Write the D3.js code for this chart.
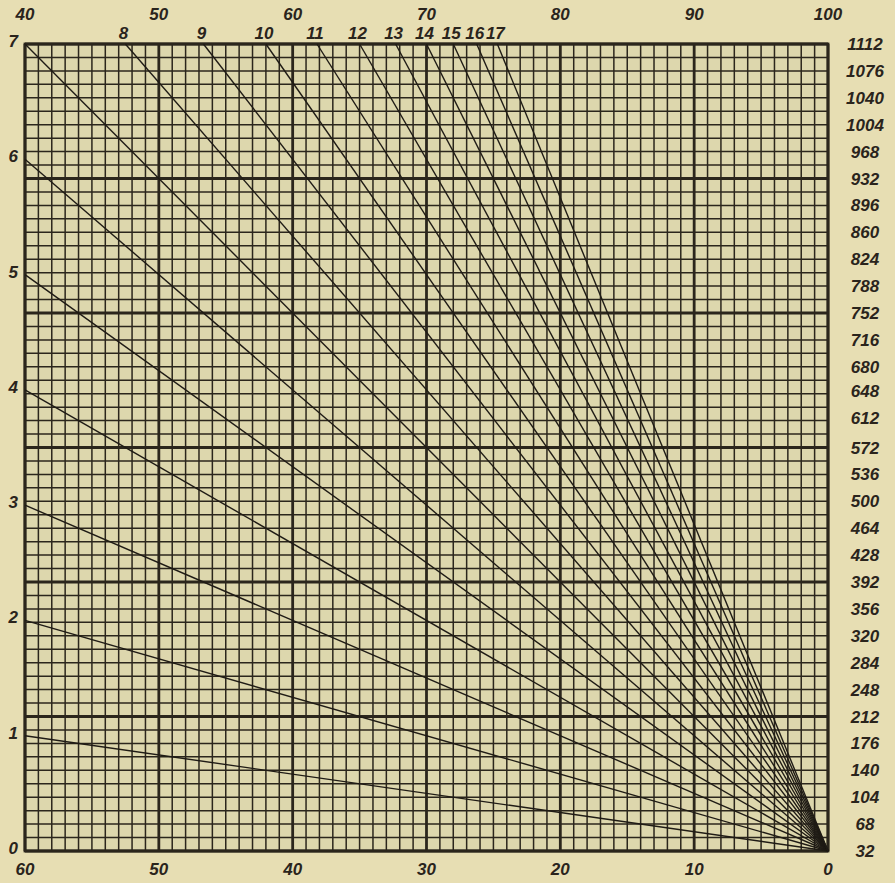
<!DOCTYPE html>
<html>
<head>
<meta charset="utf-8">
<script src="https://cdn.jsdelivr.net/npm/d3@7"></script>
<style>
  body { margin: 0; background: #e7deb3; }
  svg { display: block; }
  text { font-family: "Liberation Sans", Arial, sans-serif; font-style: italic; font-weight: bold; fill: #2a241c; }
</style>
</head>
<body>
<svg id="chart"></svg>
<script>
// axis values
const bottomTicks = [60, 50, 40, 30, 20, 10, 0];
const topTicks = [40, 50, 60, 70, 80, 90, 100];
const leftTicks = [0, 1, 2, 3, 4, 5, 6, 7];
const rightTicks = [32, 68, 104, 140, 176, 212, 248, 284, 320, 356, 392, 428, 464, 500, 536,
    572, 612, 648, 680, 716, 752, 788, 824, 860, 896, 932, 968, 1004, 1040, 1076, 1112];

// ray numbers: 1-7 end on the left edge, 8-17 end on the top edge
const rays = [1, 2, 3, 4, 5, 6, 7, 8, 9, 10, 11, 12, 13, 14, 15, 16, 17];
const topRayLabels = [8, 9, 10, 11, 12, 13, 14, 15, 16, 17];

var w = 895;
var h = 883;
let margin = ({ top: 44, right: 67, bottom: 32, left: 25 });

var svg = d3.select("#chart")
    .attr("width", w)
    .attr("height", h);

var xScale = d3.scaleLinear()
    .domain([60, 0])
    .range([margin.left, w - margin.right]);

var xTop = d3.scaleLinear()
    .domain([40, 100])
    .range([margin.left, w - margin.right]);

var yScale = d3.scaleLinear()
    .domain([0, 7])
    .range([h - margin.bottom, margin.top]);

var yRight = d3.scaleLinear()
    .domain([32, 1112])
    .range([h - margin.bottom, margin.top]);

const ink = "#2b261c";

svg.append("rect")
    .attr("x", xScale(60))
    .attr("y", yScale(7))
    .attr("width", xScale(0) - xScale(60))
    .attr("height", yScale(0) - yScale(7))
    .attr("fill", "#ddd7ad");

// grid: one column per unit of the bottom scale, one row per 18 on the right scale
const grid = svg.append("g");

grid.append("g")
    .selectAll("line")
    .data(d3.range(0, 61))
    .join("line")
    .attr("x1", d => xScale(d))
    .attr("x2", d => xScale(d))
    .attr("y1", yScale(0))
    .attr("y2", yScale(7))
    .attr("stroke", ink)
    .attr("stroke-width", d => d % 10 === 0 ? 2.8 : 1.5);

grid.append("g")
    .selectAll("line")
    .data(d3.range(0, 61))
    .join("line")
    .attr("y1", d => yRight(32 + d * 18))
    .attr("y2", d => yRight(32 + d * 18))
    .attr("x1", xScale(60))
    .attr("x2", xScale(0))
    .attr("stroke", ink)
    .attr("stroke-width", d => d % 10 === 0 ? 2.8 : 1.5);

svg.append("rect")
    .attr("x", xScale(60))
    .attr("y", yScale(7))
    .attr("width", xScale(0) - xScale(60))
    .attr("height", yScale(0) - yScale(7))
    .attr("fill", "none")
    .attr("stroke", ink)
    .attr("stroke-width", 2.8);

// rays from the bottom-right corner, slope k/60
const rayEnd = k => k <= 7 ? [60, k] : [60 * 7 / k, 7];

svg.append("g")
    .selectAll("line")
    .data(rays)
    .join("line")
    .attr("x1", xScale(0))
    .attr("y1", yScale(0))
    .attr("x2", d => xScale(rayEnd(d)[0]))
    .attr("y2", d => yScale(rayEnd(d)[1]))
    .attr("stroke", "#1f1b15")
    .attr("stroke-width", 1.4);

// labels
const fs = "17px";

svg.append("g")
    .selectAll("text")
    .data(bottomTicks)
    .join("text")
    .attr("x", d => xScale(d))
    .attr("y", h - 8)
    .attr("text-anchor", "middle")
    .style("font-size", fs)
    .text(d => d);

svg.append("g")
    .selectAll("text")
    .data(topTicks)
    .join("text")
    .attr("x", d => xTop(d))
    .attr("y", 20)
    .attr("text-anchor", "middle")
    .style("font-size", fs)
    .text(d => d);

svg.append("g")
    .selectAll("text")
    .data(topRayLabels)
    .join("text")
    .attr("x", d => xScale(60 * 7 / d) - 2)
    .attr("y", 39)
    .attr("text-anchor", "middle")
    .style("font-size", fs)
    .text(d => d);

svg.append("g")
    .selectAll("text")
    .data(leftTicks)
    .join("text")
    .attr("x", 18)
    .attr("y", d => yScale(d) + 3)
    .attr("text-anchor", "end")
    .style("font-size", fs)
    .text(d => d);

svg.append("g")
    .selectAll("text")
    .data(rightTicks)
    .join("text")
    .attr("x", 865)
    .attr("y", d => yRight(d) + 6)
    .attr("text-anchor", "middle")
    .style("font-size", fs)
    .text(d => d);
</script>
</body>
</html>
